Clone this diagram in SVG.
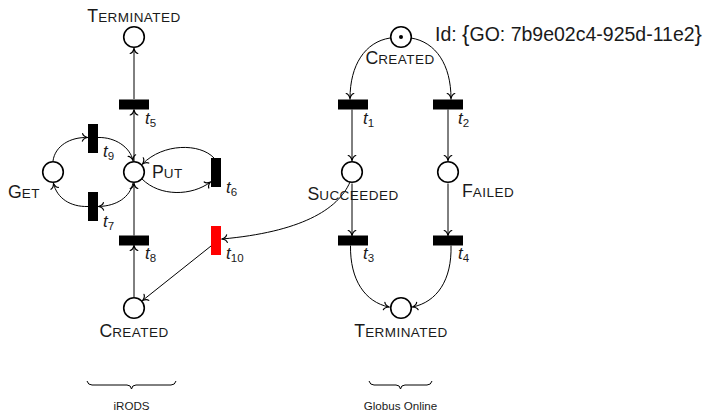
<svg xmlns="http://www.w3.org/2000/svg" width="707" height="413" viewBox="0 0 707 413">
<style>
.pl{fill:#fff;stroke:#000;stroke-width:1.6}
.tr{fill:#000}
.trr{fill:#f00}
.lbl{font-family:"Liberation Sans",Arial,sans-serif;font-size:17.7px;fill:#1a1a1a}
.sc{font-size:13.5px;letter-spacing:0.45px}
.tl{font-family:"Liberation Sans",Arial,sans-serif;font-size:17px;font-style:italic;fill:#1a1a1a}
.sub{font-size:11.5px;font-style:normal}
.id{font-family:"Liberation Sans",Arial,sans-serif;font-size:19.5px;fill:#1a1a1a}
.brc{font-size:22px}
.sm{font-family:"Liberation Sans",Arial,sans-serif;font-size:11.6px;fill:#1a1a1a}
.c{fill:none;stroke:#000;stroke-width:1;marker-end:url(#ar)}
.br{fill:none;stroke:#000;stroke-width:1}
</style>
<defs>
<marker id="ar" markerUnits="userSpaceOnUse" markerWidth="12" markerHeight="12" viewBox="-7 -6 9 12" refX="0" refY="0" orient="auto">
<path d="M-5,-3.8 C-4.5,-1.8 -1.5,-0.4 0,0 C-1.5,0.4 -4.5,1.8 -5,3.8" fill="none" stroke="#000" stroke-width="1.2" stroke-linecap="round"/>
</marker>
</defs>
<g id="connectors">
<path class="c" d="M134,99 L134,48.5"/>
<path class="c" d="M134,161 L134,110"/>
<path class="c" d="M134,235.5 L134,183.5"/>
<path class="c" d="M134,297 L134,245.5"/>
<path class="c" d="M53,161 C55,146 70,137 87.5,137.5"/>
<path class="c" d="M98,137.5 C115,137 130,147 133,160.5"/>
<path class="c" d="M133,183 C130,197 117,206 98.5,206.5"/>
<path class="c" d="M88,206.5 C70,207 57,198 53.5,183.5"/>
<path class="c" d="M142,179 C160,197 192,196 210.5,182"/>
<path class="c" d="M214,158 C200,143 163,143 142.5,164"/>
<path class="c" d="M211,246 L142.5,300.5"/>
<path class="c" d="M350,182 C338,210 300,232 222,239"/>
<path class="c" d="M390,38 C365,42 350,65 350,98.5"/>
<path class="c" d="M411,38 C436,42 451,65 451,98.5"/>
<path class="c" d="M352,109.5 L352,160.5"/>
<path class="c" d="M448,109.5 L448,160.5"/>
<path class="c" d="M352,183.5 L352,235.5"/>
<path class="c" d="M448,183.5 L448,235.5"/>
<path class="c" d="M350.5,245.5 C350,280 365,302 389,307"/>
<path class="c" d="M451,245.5 C452,280 437,302 412.5,307"/>
</g>
<g id="p-terminated-irods">
<circle class="pl" cx="134" cy="37" r="10.3"/>
<text class="lbl" x="134" y="22" text-anchor="middle">T<tspan class="sc">ERMINATED</tspan></text>
</g>
<g id="p-put">
<circle class="pl" cx="134" cy="172" r="10.3"/>
<text class="lbl" x="152" y="177.5">P<tspan class="sc">UT</tspan></text>
</g>
<g id="p-get">
<circle class="pl" cx="53" cy="172" r="10.3"/>
<text class="lbl" x="8" y="198">G<tspan class="sc">ET</tspan></text>
</g>
<g id="p-created-irods">
<circle class="pl" cx="134" cy="308" r="10.3"/>
<text class="lbl" x="134" y="337" text-anchor="middle">C<tspan class="sc">REATED</tspan></text>
</g>
<g id="t5"><rect class="tr" x="119" y="99.5" width="30" height="10"/><text class="tl" x="145" y="124">t<tspan class="sub" dy="3">5</tspan></text></g>
<g id="t8"><rect class="tr" x="119" y="235.5" width="30" height="10"/><text class="tl" x="145" y="259">t<tspan class="sub" dy="3">8</tspan></text></g>
<g id="t9"><rect class="tr" x="88" y="124" width="10" height="29"/><text class="tl" x="103" y="157">t<tspan class="sub" dy="3">9</tspan></text></g>
<g id="t7"><rect class="tr" x="88" y="192" width="10" height="29"/><text class="tl" x="103" y="227">t<tspan class="sub" dy="3">7</tspan></text></g>
<g id="t6"><rect class="tr" x="211" y="158" width="10" height="29"/><text class="tl" x="226" y="193">t<tspan class="sub" dy="3">6</tspan></text></g>
<g id="t10"><rect class="trr" x="211" y="226" width="10" height="29"/><text class="tl" x="226" y="259">t<tspan class="sub" dy="3">10</tspan></text></g>
<g id="p-created-go">
<circle class="pl" cx="401" cy="37" r="10.3"/>
<circle cx="401" cy="37" r="2" fill="#000"/>
<text class="lbl" x="400" y="64" text-anchor="middle">C<tspan class="sc">REATED</tspan></text>
<text class="id" x="435" y="41">Id: <tspan class="brc">{</tspan>GO: 7b9e02c4-925d-11e2<tspan class="brc">}</tspan></text>
</g>
<g id="p-succeeded">
<circle class="pl" cx="352" cy="172" r="10.3"/>
<text class="lbl" x="353" y="200" text-anchor="middle">S<tspan class="sc">UCCEEDED</tspan></text>
</g>
<g id="p-failed">
<circle class="pl" cx="448" cy="172" r="10.3"/>
<text class="lbl" x="462" y="197">F<tspan class="sc">AILED</tspan></text>
</g>
<g id="p-terminated-go">
<circle class="pl" cx="401" cy="308" r="10.3"/>
<text class="lbl" x="401" y="337" text-anchor="middle">T<tspan class="sc">ERMINATED</tspan></text>
</g>
<g id="t1"><rect class="tr" x="338" y="99.5" width="30" height="10"/><text class="tl" x="363" y="124">t<tspan class="sub" dy="3">1</tspan></text></g>
<g id="t2"><rect class="tr" x="433" y="99.5" width="30" height="10"/><text class="tl" x="458" y="124">t<tspan class="sub" dy="3">2</tspan></text></g>
<g id="t3"><rect class="tr" x="338" y="235.5" width="30" height="10"/><text class="tl" x="363" y="259">t<tspan class="sub" dy="3">3</tspan></text></g>
<g id="t4"><rect class="tr" x="433" y="235.5" width="30" height="10"/><text class="tl" x="458" y="259">t<tspan class="sub" dy="3">4</tspan></text></g>
<g id="brace-irods">
<path class="br" d="M87,381 Q88,385 92,385 L127,385 Q131,385 131.5,389 Q132,385 136,385 L171,385 Q175,385 176,381"/>
<text class="sm" x="131.5" y="410" text-anchor="middle">iRODS</text>
</g>
<g id="brace-go">
<path class="br" d="M369,381 Q370,385 374,385 L396,385 Q400,385 400.5,389 Q401,385 405,385 L427,385 Q431,385 432,381"/>
<text class="sm" x="400.5" y="410" text-anchor="middle">Globus Online</text>
</g>
</svg>
